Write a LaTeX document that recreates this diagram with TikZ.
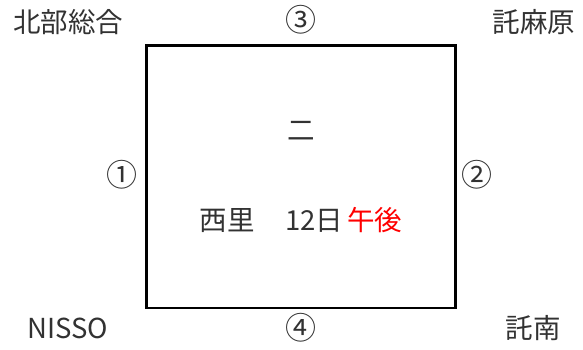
\documentclass[tikz,border=0pt]{standalone}
\usepackage{fontspec}
\setmainfont{Noto Sans CJK JP}
\definecolor{txt}{RGB}{50,50,50}
\definecolor{redt}{RGB}{255,0,0}
\begin{document}
\begin{tikzpicture}[x=1pt,y=-1pt,
  lbl/.style={inner sep=0pt,text=txt,font=\fontsize{27.5}{32}\selectfont},
  circ/.style={inner sep=0pt,text=txt,font=\fontsize{31}{34}\selectfont}]
\useasboundingbox (0,0) rectangle (583,349);
\draw[line width=2.5pt] (146.5,45.5) rectangle (455.5,308) coordinate (br);
\node[lbl] (nw) at (68,22) {北部総合};
\node[circ] (n3) at (301,20) {③};
\node[lbl] (ne) at (534,22) {託麻原};
\node[circ] (n1) at (122,175) {①};
\node[circ] (n2) at (477,175) {②};
\node[lbl] (ni) at (301,131) {二};
\node[lbl] (ns) at (301,220) {西里\hspace{0.1em}　12日\hspace{0.15em}\textcolor{redt}{午後}};
\node[lbl] (sw) at (68,328) {NISSO};
\node[circ] (n4) at (301,328) {④};
\node[lbl] (se) at (533,328) {託南};
\end{tikzpicture}
\end{document}
